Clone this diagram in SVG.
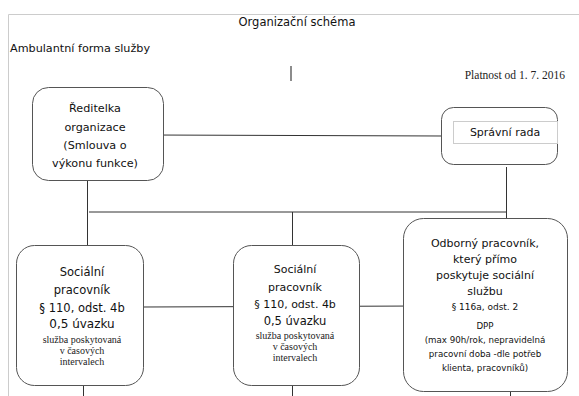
<svg xmlns="http://www.w3.org/2000/svg" width="579" height="396" viewBox="0 0 579 396">
<style>
.box{fill:#fff;stroke:#555;stroke-width:1}
.ln{stroke:#333;stroke-width:1;fill:none}
.t{font-family:"DejaVu Sans","Liberation Sans",sans-serif;fill:#111;text-anchor:middle}
.s{font-family:"Liberation Serif","Times New Roman",serif;fill:#222;text-anchor:middle}
</style>
<rect width="579" height="396" fill="#fff"/>
<path d="M8.5 396V14.5H579" fill="none" stroke="#ccc" stroke-width="1"/>
<text class="t" x="297" y="26" font-size="11.5">Organizační schéma</text>
<text class="t" x="10" y="52" font-size="11.2" style="text-anchor:start">Ambulantní forma služby</text>
<line x1="291" y1="66" x2="291" y2="81" stroke="#666" stroke-width="1.5"/>
<text class="s" x="565" y="79" font-size="11.5" style="text-anchor:end">Platnost od 1. 7. 2016</text>

<g id="connectors">
<line class="ln" x1="152" y1="135" x2="444" y2="136"/>
<line class="ln" x1="87.5" y1="165" x2="87.5" y2="245"/>
<line class="ln" x1="89" y1="212" x2="507" y2="212"/>
<line class="ln" x1="506.5" y1="167" x2="506.5" y2="219"/>
<line class="ln" x1="292.5" y1="212" x2="292.5" y2="396"/>
<line class="ln" x1="143" y1="307" x2="421" y2="306"/>
<line class="ln" x1="83.5" y1="362" x2="83.5" y2="396"/>
<line class="ln" x1="510.5" y1="380" x2="510.5" y2="396"/>
</g>

<g id="reditelka">
<rect class="box" x="32.5" y="87.5" width="131" height="93" rx="16"/>
<text class="t" font-size="11.2"><tspan x="95" y="112">Ředitelka</tspan><tspan x="95" y="131">organizace</tspan><tspan x="95" y="149">(Smlouva o</tspan><tspan x="95" y="167">výkonu funkce)</tspan></text>
</g>

<g id="spravni-rada">
<rect class="box" x="441.5" y="107.5" width="116" height="57" rx="12"/>
<rect x="453.5" y="121.5" width="104" height="22" fill="#fff" stroke="#ccc" stroke-width="1"/>
<text class="t" x="505" y="136" font-size="11">Správní rada</text>
</g>

<g id="socialni1">
<rect class="box" x="16.5" y="245.5" width="127" height="140" rx="18"/>
<text class="t" font-size="11.5"><tspan x="82" y="276">Sociální</tspan><tspan x="82" y="294">pracovník</tspan><tspan x="82" y="312">§ 110, odst. 4b</tspan></text>
<text class="t" x="82" y="328" font-size="12">0,5 úvazku</text>
<text class="s" font-size="10"><tspan x="82" y="343">služba poskytovaná</tspan><tspan x="82" y="354">v časových</tspan><tspan x="82" y="365">intervalech</tspan></text>
</g>

<g id="socialni2">
<rect class="box" x="233.5" y="245.5" width="126" height="140" rx="18"/>
<text class="t" font-size="11"><tspan x="295" y="273">Sociální</tspan><tspan x="295" y="291">pracovník</tspan><tspan x="295" y="308">§ 110, odst. 4b</tspan></text>
<text class="t" x="295" y="325" font-size="11.5">0,5 úvazku</text>
<text class="s" font-size="10"><tspan x="295" y="339">služba poskytovaná</tspan><tspan x="295" y="350">v časových</tspan><tspan x="295" y="361">intervalech</tspan></text>
</g>

<g id="odborny">
<rect class="box" x="403.5" y="218.5" width="164" height="173" rx="20"/>
<text class="t" font-size="11"><tspan x="485" y="247">Odborný pracovník,</tspan><tspan x="485" y="263">který přímo</tspan><tspan x="485" y="279">poskytuje sociální</tspan><tspan x="485" y="295">službu</tspan></text>
<text class="t" x="485" y="310" font-size="9">§ 116a, odst. 2</text>
<text class="t" font-size="8.7"><tspan x="485" y="329">DPP</tspan><tspan x="485" y="343">(max 90h/rok, nepravidelná</tspan><tspan x="485" y="357">pracovní doba -dle potřeb</tspan><tspan x="485" y="371">klienta, pracovníků)</tspan></text>
</g>
</svg>
